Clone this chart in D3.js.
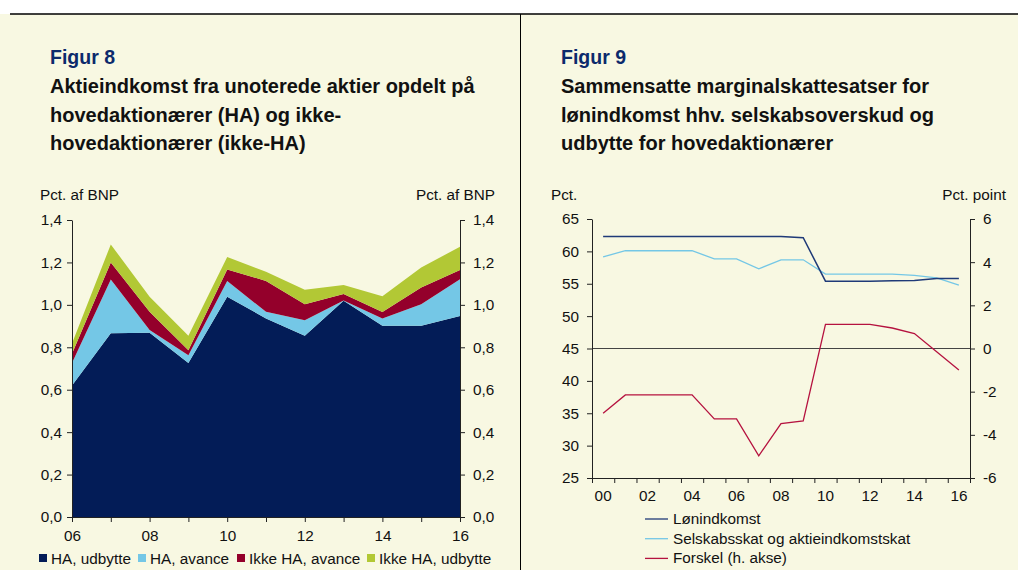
<!DOCTYPE html>
<html>
<head>
<meta charset="utf-8">
<script src="https://cdn.jsdelivr.net/npm/d3@7"></script>
<style>
  body { margin: 0; background: #ffffff; }
  svg { display: block; font-family: "Liberation Sans", Arial, sans-serif; }
  .axis path, .axis line { stroke: #222; }
  .axis text { font-size: 15.3px; fill: #111; font-family: "Liberation Sans", Arial, sans-serif; }
</style>
</head>
<body>
<div id="wrapper"></div>
<script>
// ---- data: figure 8 (pct. af BNP)
const years8 = [2006, 2007, 2008, 2009, 2010, 2011, 2012, 2013, 2014, 2015, 2016];
const haUdbytte = [0.62, 0.866, 0.868, 0.726, 1.038, 0.936, 0.854, 1.019, 0.901, 0.901, 0.947];
const haAvance = [0.106, 0.254, 0.014, 0.037, 0.075, 0.031, 0.074, 0.002, 0.035, 0.102, 0.174];
const ikkeHaAvance = [0.044, 0.08, 0.085, 0.023, 0.054, 0.146, 0.075, 0.03, 0.03, 0.079, 0.043];
const ikkeHaUdbytte = [0.048, 0.085, 0.071, 0.068, 0.059, 0.043, 0.068, 0.043, 0.074, 0.094, 0.11];
const series8 = ["HA, udbytte", "HA, avance", "Ikke HA, avance", "Ikke HA, udbytte"];
const yTicks8 = [0, 0.2, 0.4, 0.6, 0.8, 1.0, 1.2, 1.4];

// ---- data: figure 9
const years9 = d3.range(2000, 2017);
const loenindkomst = [62.3, 62.3, 62.3, 62.3, 62.3, 62.3, 62.3, 62.3, 62.3, 62.1, 55.4, 55.4, 55.4, 55.45, 55.5, 55.8, 55.8];
const selskabsskat = [59.15, 60.1, 60.1, 60.1, 60.1, 58.85, 58.85, 57.3, 58.7, 58.7, 56.5, 56.5, 56.5, 56.5, 56.3, 55.9, 54.8];
const forskel = [-3.0, -2.15, -2.15, -2.15, -2.15, -3.26, -3.26, -4.97, -3.48, -3.35, 1.12, 1.12, 1.12, 0.95, 0.69, -0.15, -1.0];
const series9 = ["Lønindkomst", "Selskabsskat og aktieindkomstskat", "Forskel (h. akse)"];
const yTicks9L = [25, 30, 35, 40, 45, 50, 55, 60, 65];
const yTicks9R = [-6, -4, -2, 0, 2, 4, 6];

const colors8 = ["#031c57", "#74c7e6", "#94002b", "#b2c835"];
const colors9 = ["#1f3a78", "#74c7e6", "#b5123f"];
const cream = "#f8f8e2";
const titleBlue = "#0c2a6c";

const svg = d3.select("#wrapper").append("svg")
    .attr("width", 1018)
    .attr("height", 570);

// background and frame
svg.append("rect").attr("x", 0).attr("y", 14).attr("width", 1018).attr("height", 556).attr("fill", cream);
svg.append("line").attr("x1", 10).attr("x2", 1018).attr("y1", 14).attr("y2", 14)
    .attr("stroke", "#000").attr("stroke-width", 1.5);
svg.append("line").attr("x1", 520.5).attr("x2", 520.5).attr("y1", 14).attr("y2", 570)
    .attr("stroke", "#000").attr("stroke-width", 1);

// titles
function titles(x, fig, lines) {
    svg.append("text").attr("x", x).attr("y", 64)
        .attr("font-size", 19.5).attr("font-weight", "bold").attr("fill", titleBlue)
        .text(fig);
    lines.forEach((t, i) => {
        svg.append("text").attr("x", x).attr("y", 93 + i * 28.7)
            .attr("font-size", 20).attr("font-weight", "bold").attr("fill", "#111")
            .text(t);
    });
}
titles(50, "Figur 8", ["Aktieindkomst fra unoterede aktier opdelt på", "hovedaktionærer (HA) og ikke-", "hovedaktionærer (ikke-HA)"]);
titles(561, "Figur 9", ["Sammensatte marginalskattesatser for", "lønindkomst hhv. selskabsoverskud og", "udbytte for hovedaktionærer"]);

const comma = d => d3.format(".1f")(d).replace(".", ",");

// ================= Figure 8 =================
const x8 = d3.scaleLinear().domain([2006, 2016]).range([72, 460]);
const y8 = d3.scaleLinear().domain([0, 1.4]).range([517, 220]);

const table8 = years8.map((yr, i) => ({
    year: yr,
    "HA, udbytte": haUdbytte[i],
    "HA, avance": haAvance[i],
    "Ikke HA, avance": ikkeHaAvance[i],
    "Ikke HA, udbytte": ikkeHaUdbytte[i]
}));
const stacked = d3.stack().keys(series8)(table8);
const area8 = d3.area()
    .x(d => x8(d.data.year))
    .y0(d => y8(d[0]))
    .y1(d => y8(d[1]));
svg.append("g").selectAll("path")
    .data(stacked)
    .join("path")
    .attr("d", area8)
    .attr("fill", (d, i) => colors8[i]);

svg.append("g").attr("class", "axis")
    .attr("transform", "translate(72,0)")
    .call(d3.axisLeft(y8).tickValues(yTicks8).tickFormat(comma).tickSize(5).tickSizeOuter(0).tickPadding(5));
svg.append("g").attr("class", "axis")
    .attr("transform", "translate(460,0)")
    .call(d3.axisRight(y8).tickValues(yTicks8).tickFormat(comma).tickSize(5).tickSizeOuter(0).tickPadding(8));
svg.append("g").attr("class", "axis")
    .attr("transform", "translate(0,517)")
    .call(d3.axisBottom(x8).tickValues(years8)
        .tickFormat(d => d % 2 === 0 ? String(d).slice(2) : "")
        .tickSize(5).tickSizeOuter(0).tickPadding(8));

svg.append("text").attr("x", 40).attr("y", 200).attr("font-size", 15.3).attr("fill", "#111").text("Pct. af BNP");
svg.append("text").attr("x", 495).attr("y", 200).attr("font-size", 15.3).attr("fill", "#111")
    .attr("text-anchor", "end").text("Pct. af BNP");

// legend 8
const legendX8 = [39, 138, 237, 367];
series8.forEach((s, i) => {
    svg.append("rect").attr("x", legendX8[i]).attr("y", 554).attr("width", 8).attr("height", 8).attr("fill", colors8[i]);
    svg.append("text").attr("x", legendX8[i] + 12).attr("y", 564).attr("font-size", 15.3).attr("fill", "#111").text(s);
});

// ================= Figure 9 =================
const x9 = d3.scaleBand().domain(years9).range([592, 970]);
const x9edge = d3.scaleLinear().domain([0, years9.length]).range([592, 970]);
const y9L = d3.scaleLinear().domain([25, 65]).range([478, 219]);
const y9R = d3.scaleLinear().domain([-6, 6]).range([478, 219]);
const cx = d => x9(d) + x9.bandwidth() / 2;

// zero line (h. akse)
svg.append("line")
    .attr("x1", 592).attr("x2", 970)
    .attr("y1", y9R(0)).attr("y2", y9R(0))
    .attr("stroke", "#444").attr("stroke-width", 1);

const line9L = d3.line().x((d, i) => cx(years9[i])).y(d => y9L(d));
const line9R = d3.line().x((d, i) => cx(years9[i])).y(d => y9R(d));
svg.append("path").datum(selskabsskat).attr("d", line9L)
    .attr("fill", "none").attr("stroke", colors9[1]).attr("stroke-width", 1.3);
svg.append("path").datum(loenindkomst).attr("d", line9L)
    .attr("fill", "none").attr("stroke", colors9[0]).attr("stroke-width", 1.5);
svg.append("path").datum(forskel).attr("d", line9R)
    .attr("fill", "none").attr("stroke", colors9[2]).attr("stroke-width", 1.3);

svg.append("g").attr("class", "axis")
    .attr("transform", "translate(592,0)")
    .call(d3.axisLeft(y9L).tickValues(yTicks9L).tickSize(5).tickSizeOuter(0).tickPadding(8));
svg.append("g").attr("class", "axis")
    .attr("transform", "translate(970,0)")
    .call(d3.axisRight(y9R).tickValues(yTicks9R).tickFormat(d => String(d)).tickSize(5).tickSizeOuter(0).tickPadding(8));
svg.append("g").attr("class", "axis")
    .attr("transform", "translate(0,478)")
    .call(d3.axisBottom(x9edge).tickValues(d3.range(years9.length + 1)).tickFormat("").tickSize(5).tickSizeOuter(0));
svg.append("g").attr("class", "axis")
    .attr("transform", "translate(0,478)")
    .call(d3.axisBottom(x9).tickFormat(d => d % 2 === 0 ? String(d).slice(2) : "").tickSize(0).tickPadding(12))
    .call(g => g.select(".domain").remove());

svg.append("text").attr("x", 551).attr("y", 200).attr("font-size", 15.3).attr("fill", "#111").text("Pct.");
svg.append("text").attr("x", 1006).attr("y", 200).attr("font-size", 15.3).attr("fill", "#111")
    .attr("text-anchor", "end").text("Pct. point");

// legend 9
series9.forEach((s, i) => {
    const yy = 519 + i * 19.7;
    svg.append("line").attr("x1", 645).attr("x2", 668).attr("y1", yy).attr("y2", yy)
        .attr("stroke", colors9[i]).attr("stroke-width", 1.3);
    svg.append("text").attr("x", 673).attr("y", yy + 5).attr("font-size", 15.3).attr("fill", "#111").text(s);
});
</script>
</body>
</html>
